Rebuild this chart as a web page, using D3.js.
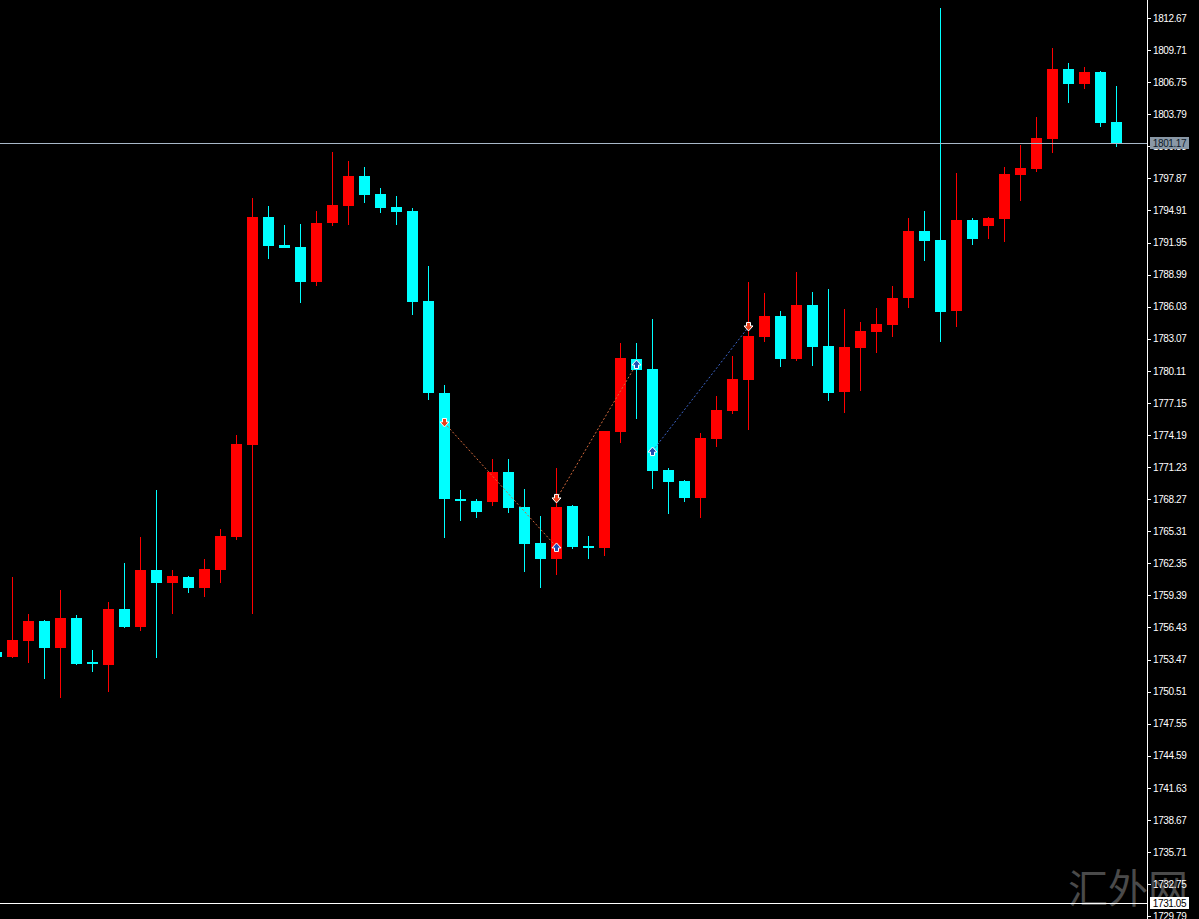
<!DOCTYPE html>
<html>
<head>
<meta charset="utf-8">
<script src="https://cdn.jsdelivr.net/npm/d3@7"></script>
<style>
html,body{margin:0;padding:0;background:#000;overflow:hidden;}
svg{display:block;}
</style>
</head>
<body>
<svg id="chart" width="1199" height="919"></svg>
<script>
// ---- data ----
const opens = [
1754.17,1753.71,1755.18,1757.03,1754.54,1757.30,1753.24,1752.97,1758.13,1756.47,
1761.73,1760.53,1761.09,1760.07,1761.73,1764.78,1773.27,1794.31,1791.72,1791.54,
1788.31,1793.75,1795.32,1798.09,1796.43,1795.23,1794.86,1786.56,1778.07,1768.29,
1768.10,1768.01,1770.78,1767.55,1764.23,1762.75,1767.64,1763.95,1763.76,1774.47,
1781.20,1780.28,1770.96,1769.95,1768.38,1773.82,1776.41,1779.27,1783.23,1785.17,
1781.20,1786.19,1782.40,1778.16,1782.22,1783.70,1784.34,1786.83,1793.02,1792.18,
1785.63,1794.03,1793.48,1794.12,1798.18,1798.74,1801.50,1807.96,1806.58,1807.69,
1803.07];
const highs = [
1754.35,1761.09,1757.67,1757.10,1759.89,1757.58,1754.35,1758.78,1762.38,1764.78,
1769.12,1761.73,1761.18,1762.75,1765.52,1774.19,1796.06,1795.32,1793.57,1793.66,
1794.86,1800.30,1799.47,1798.92,1796.98,1796.24,1795.14,1789.79,1778.80,1769.12,
1768.29,1771.98,1771.98,1769.21,1766.72,1771.15,1767.70,1764.87,1774.60,1782.68,
1782.68,1784.89,1771.15,1770.00,1774.38,1777.79,1781.48,1788.31,1787.29,1785.63,
1789.23,1787.39,1787.66,1785.82,1784.62,1785.91,1787.94,1794.21,1794.86,1813.59,
1798.37,1794.21,1794.30,1798.92,1800.95,1803.53,1809.90,1808.52,1808.15,1807.75,
1806.40];
const lows = [
1753.52,1753.61,1753.15,1751.68,1749.92,1752.98,1752.32,1750.48,1756.38,1756.10,
1753.61,1757.67,1759.61,1759.24,1760.53,1764.50,1757.67,1790.43,1791.40,1786.37,
1787.94,1793.48,1793.57,1795.60,1794.68,1793.57,1785.26,1777.42,1764.69,1766.26,
1766.53,1767.64,1766.99,1761.55,1760.07,1761.27,1763.67,1762.75,1763.03,1773.45,
1775.67,1769.21,1766.90,1768.01,1766.53,1773.08,1776.13,1774.65,1782.77,1780.47,
1781.02,1780.56,1777.33,1776.22,1778.25,1781.76,1783.23,1785.91,1790.25,1782.77,
1784.16,1791.72,1792.28,1792.00,1795.78,1798.50,1800.21,1804.83,1806.12,1802.61,
1800.77];
const closes = [
1753.71,1755.27,1757.03,1754.54,1757.30,1753.06,1753.06,1758.13,1756.47,1761.73,
1760.53,1761.18,1760.07,1761.83,1764.87,1773.36,1794.31,1791.63,1791.45,1788.31,
1793.75,1795.41,1798.09,1796.34,1795.14,1794.77,1786.46,1778.07,1768.29,1768.10,
1767.09,1770.78,1767.45,1764.13,1762.75,1767.55,1763.86,1763.76,1774.56,1781.30,
1780.19,1770.87,1769.85,1768.38,1773.91,1776.50,1779.36,1783.33,1785.17,1781.20,
1786.19,1782.31,1778.07,1782.31,1783.79,1784.43,1786.83,1793.02,1792.09,1785.54,
1794.03,1792.28,1794.21,1798.27,1798.83,1801.60,1807.96,1806.58,1807.69,1802.98,
1801.17];
const tickLabels = ["1812.67","1809.71","1806.75","1803.79","1800.83","1797.87","1794.91",
"1791.95","1788.99","1786.03","1783.07","1780.11","1777.15","1774.19","1771.23","1768.27",
"1765.31","1762.35","1759.39","1756.43","1753.47","1750.51","1747.55","1744.59","1741.63",
"1738.67","1735.71","1732.75","1729.79"];
const bidPrice = 1801.17;
const lowLinePrice = 1731.05;
// zigzag segments: [index, price] pairs
const orangeSegments = [[[28,1775.30],[35,1763.86]], [[35,1768.29],[40,1780.74]]];
const blueSegments = [[[41,1772.71],[47,1784.16]]];
const sellArrows = [[28,1775.30],[35,1768.29],[47,1784.16]];
const buyArrows = [[35,1763.86],[40,1780.74],[41,1772.71]];
const watermark = "汇外网";

// ---- scales ----
const W = 1199, H = 919, axisX = 1147;
const x = d3.scaleLinear().domain([0, 70]).range([-3.5, 1116.5]);
const y = d3.scaleLinear().domain([1731.05, 1812.67]).range([902.5, 18]);

const svg = d3.select("#chart");
svg.append("rect").attr("width", W).attr("height", H).attr("fill", "#000");

svg.append("defs").append("clipPath").attr("id","plot")
  .append("rect").attr("x",0).attr("y",0).attr("width",axisX).attr("height",H);

const RED = "#ff0000", CYAN = "#00ffff";
const candles = opens.map((o,i)=>({i, o, h:highs[i], l:lows[i], c:closes[i]}));

const plot = svg.append("g").attr("clip-path","url(#plot)").attr("shape-rendering","crispEdges");

// watermark
svg.append("text").attr("x", 1068).attr("y", 903)
  .attr("font-family", "'Noto Sans CJK SC', serif").attr("font-size", 40)
  .attr("fill", "#4a4a4a").text(watermark);

const g = plot.selectAll("g.candle").data(candles).join("g").attr("class","candle");
g.append("rect")
  .attr("x", d => Math.round(x(d.i)) - 0.5 >= 0 ? Math.floor(x(d.i)) : Math.floor(x(d.i)))
  .attr("y", d => Math.round(y(d.h)))
  .attr("width", 1)
  .attr("height", d => Math.max(1, Math.round(y(d.l)) - Math.round(y(d.h))))
  .attr("fill", d => d.c >= d.o ? RED : CYAN);
g.append("rect")
  .attr("x", d => x(d.i) - 5.5)
  .attr("y", d => Math.round(y(Math.max(d.o, d.c))))
  .attr("width", 11)
  .attr("height", d => Math.max(2, Math.round(y(Math.min(d.o, d.c))) - Math.round(y(Math.max(d.o, d.c)))))
  .attr("fill", d => d.c >= d.o ? RED : CYAN);

// zigzag lines
const line = d3.line().x(p => x(p[0])).y(p => y(p[1]));
const zz = svg.append("g");
orangeSegments.forEach(s => zz.append("path").attr("d", line(s)).attr("fill","none")
  .attr("stroke","#d2693c").attr("stroke-width",1).attr("stroke-dasharray","2,2"));
blueSegments.forEach(s => zz.append("path").attr("d", line(s)).attr("fill","none")
  .attr("stroke","#3c64c8").attr("stroke-width",1).attr("stroke-dasharray","2,2"));

// arrows
const downPath = "M-2,-4.5 L2,-4.5 L2,-1 L4.5,-1 L0,4 L-4.5,-1 L-2,-1 Z";
const upPath = "M-2,4.5 L2,4.5 L2,1 L4.5,1 L0,-4 L-4.5,1 L-2,1 Z";
zz.selectAll("path.sell").data(sellArrows).join("path").attr("class","sell")
  .attr("d", downPath).attr("transform", d => `translate(${x(d[0])},${y(d[1])})`)
  .attr("fill","#e8401c").attr("stroke","#ffffff").attr("stroke-width",1);
zz.selectAll("path.buy").data(buyArrows).join("path").attr("class","buy")
  .attr("d", upPath).attr("transform", d => `translate(${x(d[0])},${y(d[1])})`)
  .attr("fill","#1f4fb4").attr("stroke","#ffffff").attr("stroke-width",1);

// price lines
svg.append("line").attr("x1",0).attr("x2",axisX).attr("y1",Math.round(y(bidPrice))+0.5).attr("y2",Math.round(y(bidPrice))+0.5)
  .attr("stroke","#a8b8c8").attr("stroke-width",1);
svg.append("line").attr("x1",0).attr("x2",axisX).attr("y1",Math.round(y(lowLinePrice))+0.5).attr("y2",Math.round(y(lowLinePrice))+0.5)
  .attr("stroke","#ffffff").attr("stroke-width",1);

// axis
const axisG = svg.append("g").attr("transform", `translate(${axisX},0)`);
const yAxis = d3.axisRight(y).tickValues(tickLabels.map(Number)).tickSize(4).tickPadding(2)
  .tickFormat((d,i) => tickLabels[i]);
axisG.call(yAxis);
axisG.select(".domain").remove();
axisG.selectAll(".tick line").attr("stroke","#fff").attr("shape-rendering","crispEdges");
axisG.selectAll(".tick text").attr("fill","#fff").attr("font-family","'Liberation Sans', Arial, sans-serif")
  .attr("font-size",10).attr("letter-spacing","-0.4px");
axisG.append("line").attr("x1",0.5).attr("x2",0.5).attr("y1",0).attr("y2",H).attr("stroke","#fff");

// price labels
function priceLabel(v, bg, fg) {
  const yy = Math.round(y(v));
  const lg = svg.append("g");
  lg.append("rect").attr("x", 1150).attr("y", yy - 6).attr("width", 39).attr("height", 12).attr("fill", bg);
  lg.append("text").attr("x", 1169.5).attr("y", yy).attr("dy","0.35em").attr("text-anchor","middle")
    .attr("font-family","'Liberation Sans', Arial, sans-serif").attr("font-size",10).attr("letter-spacing","-0.4px")
    .attr("fill", fg).text(v.toFixed(2));
}
priceLabel(bidPrice, "#8a98a6", "#0c1a2a");
priceLabel(lowLinePrice, "#ffffff", "#000000");
</script>
</body>
</html>
